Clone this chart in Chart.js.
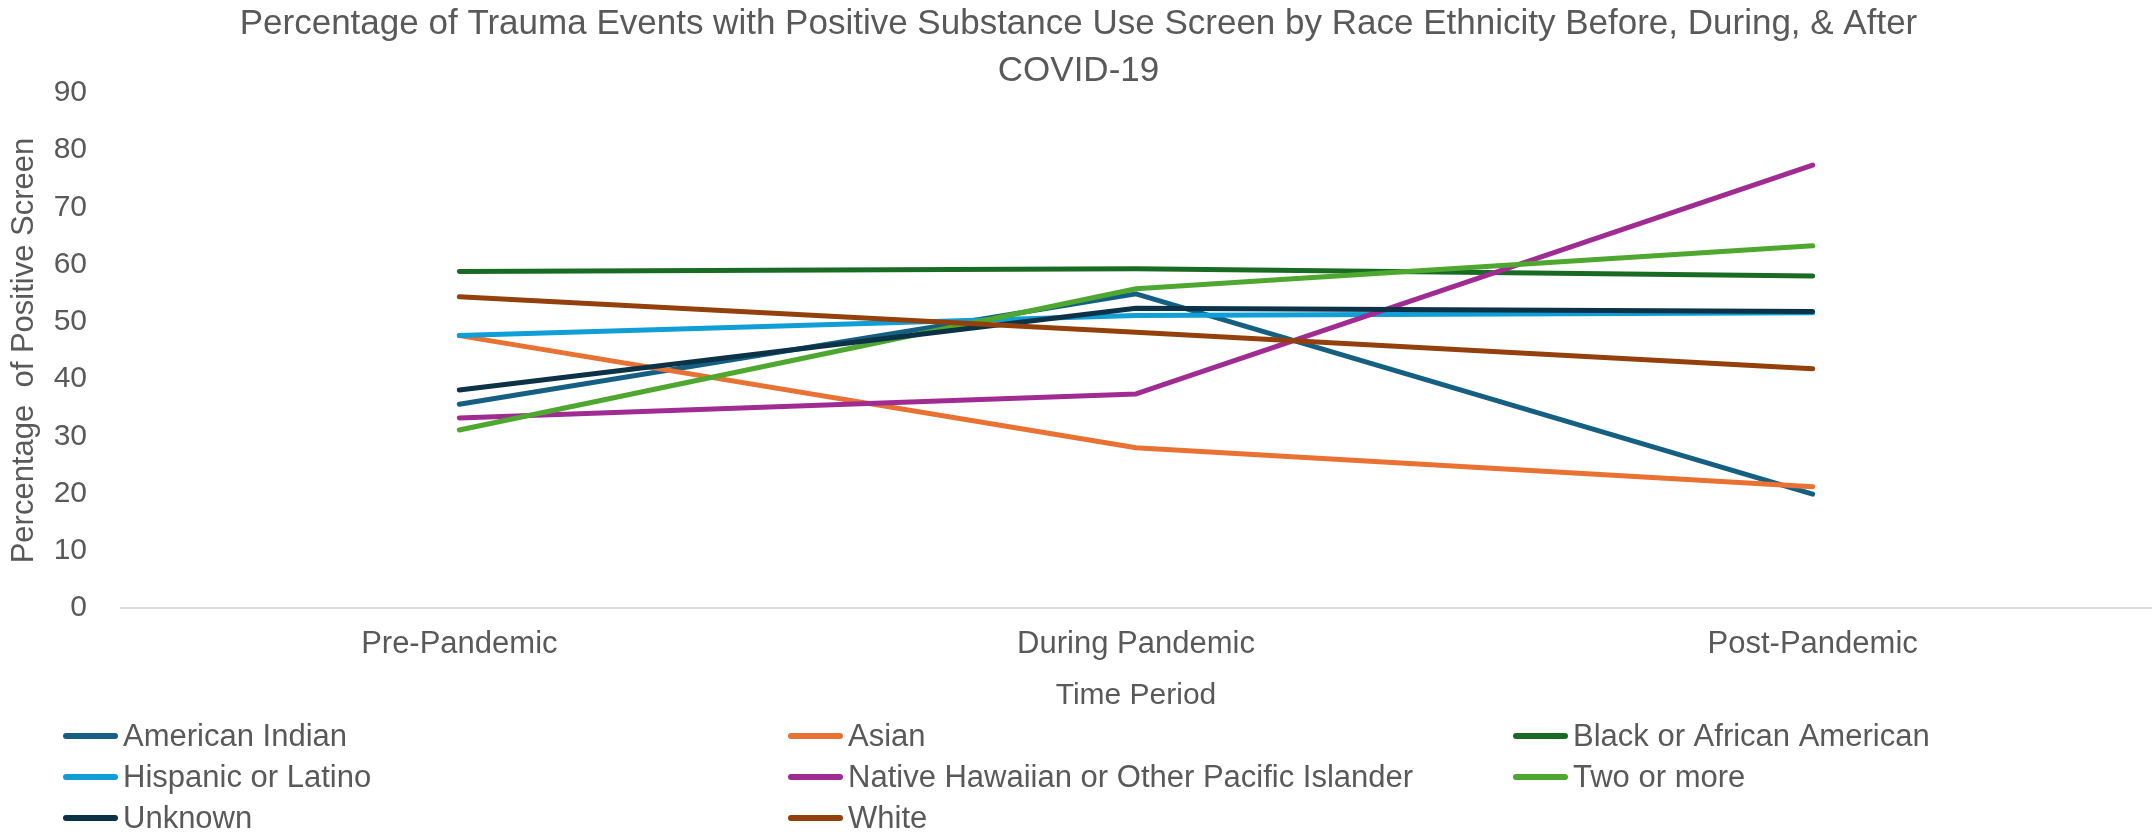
<!DOCTYPE html>
<html>
<head>
<meta charset="utf-8">
<script src="https://cdn.jsdelivr.net/npm/chart.js@4/dist/chart.umd.min.js"></script>
<style>
  html, body { margin: 0; padding: 0; background: #ffffff; }
  #wrap { width: 2155px; height: 832px; }
</style>
</head>
<body>
<div id="wrap"><canvas id="chart" width="2155" height="832"></canvas></div>
<script>
// Time periods on the x axis
const periods = ['Pre-Pandemic', 'During Pandemic', 'Post-Pandemic'];

// Percentage of trauma events with a positive substance use screen, per group
const americanIndian = [35.6, 54.9, 19.9];
const asian = [47.6, 28.0, 21.2];
const blackAfricanAmerican = [58.8, 59.3, 58.0];
const hispanicLatino = [47.6, 51.1, 51.6];
const nativeHawaiianPI = [33.2, 37.4, 77.4];
const twoOrMore = [31.1, 55.8, 63.3];
const unknown = [38.1, 52.4, 51.8];
const white = [54.4, 48.2, 41.8];

// Y axis range and step
const yMin = 0;
const yMax = 90;
const yStep = 10;

const titleLines = [
  'Percentage of Trauma Events with Positive Substance Use Screen by Race Ethnicity Before, During, & After',
  'COVID-19'
];
const xTitle = 'Time Period';
const yTitle = 'Percentage  of Positive Screen';

const seriesNames = [
  'American Indian', 'Asian', 'Black or African American',
  'Hispanic or Latino', 'Native Hawaiian or Other Pacific Islander', 'Two or more',
  'Unknown', 'White'
];
const seriesValues = [
  americanIndian, asian, blackAfricanAmerican,
  hispanicLatino, nativeHawaiianPI, twoOrMore,
  unknown, white
];
const seriesColors = [
  '#156082', '#E97132', '#196B24',
  '#0F9ED5', '#A02B93', '#4EA72E',
  '#0B3246', '#94400D'
];

const TEXT = '#595959';
const FONT = "'Liberation Sans', Arial, sans-serif";

const datasets = seriesNames.map((name, i) => ({
  label: name,
  data: seriesValues[i],
  borderColor: seriesColors[i],
  backgroundColor: seriesColors[i],
  borderWidth: 5,
  borderCapStyle: 'round',
  borderJoinStyle: 'round',
  pointRadius: 0,
  pointHoverRadius: 0,
  tension: 0,
  fill: false,
  // later series are painted over earlier ones
  order: seriesNames.length - i
}));

// Three-column legend drawn under the axis title
const gridLegend = {
  id: 'gridLegend',
  afterDraw(chart) {
    const ctx = chart.ctx;
    const left = 63, colW = 725, rowH = 41, top = 736;
    const sample = 55, gap = 5;
    ctx.save();
    ctx.font = '31px ' + FONT;
    ctx.textBaseline = 'middle';
    ctx.textAlign = 'left';
    seriesNames.forEach((name, i) => {
      const col = i % 3, row = Math.floor(i / 3);
      const x = left + col * colW;
      const y = top + row * rowH;
      ctx.strokeStyle = seriesColors[i];
      ctx.lineWidth = 6;
      ctx.lineCap = 'round';
      ctx.beginPath();
      ctx.moveTo(x + 3, y);
      ctx.lineTo(x + sample - 3, y);
      ctx.stroke();
      ctx.fillStyle = TEXT;
      ctx.fillText(name, x + sample + gap, y + 1);
    });
    ctx.restore();
  }
};

new Chart(document.getElementById('chart'), {
  type: 'line',
  data: { labels: periods, datasets },
  plugins: [gridLegend],
  options: {
    responsive: false,
    devicePixelRatio: 1,
    animation: false,
    events: [],
    layout: { padding: { left: 6, right: 4, top: 0, bottom: 118 } },
    plugins: {
      legend: { display: false },
      tooltip: { enabled: false },
      title: {
        display: true,
        text: titleLines,
        color: TEXT,
        font: { family: FONT, size: 35, weight: 'normal', lineHeight: '47px' },
        padding: { top: 1, bottom: -2 }
      }
    },
    scales: {
      x: {
        offset: true,
        grid: { display: false, drawTicks: false },
        border: { display: true, color: '#D9D9D9', width: 2 },
        ticks: { color: TEXT, font: { family: FONT, size: 31 }, padding: 18, maxRotation: 0 },
        title: {
          display: true, text: xTitle, color: TEXT,
          font: { family: FONT, size: 30 }, padding: { top: 0, bottom: 0 }
        },
        afterFit(scale) {
          scale.height = 106;
          scale.paddingLeft = 0;
          scale.paddingRight = 0;
        }
      },
      y: {
        min: yMin, max: yMax,
        grid: { display: false, drawTicks: false },
        border: { display: false },
        ticks: { stepSize: yStep, color: TEXT, font: { family: FONT, size: 30 }, padding: 34 },
        title: {
          display: true, text: yTitle, color: TEXT,
          font: { family: FONT, size: 31 }, padding: { top: 0, bottom: 0 }
        },
        afterFit(scale) {
          scale.width = 115;
        }
      }
    }
  }
});
</script>
</body>
</html>
